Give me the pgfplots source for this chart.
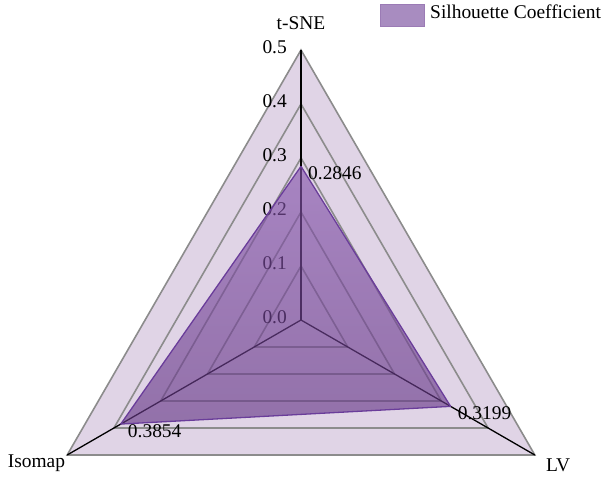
\documentclass[border=0pt]{standalone}
\usepackage{pgfplots}
\pgfplotsset{compat=1.18}
\usetikzlibrary{calc}
\usepackage{fontspec}
\setmainfont{Liberation Serif}
\definecolor{bgl}{HTML}{E0D4E6}
\definecolor{gridg}{HTML}{8C8C8C}
\definecolor{dataTop}{RGB}{136,88,174}
\definecolor{dataBot}{RGB}{104,58,136}
\definecolor{edgeC}{HTML}{6A3D9A}
\definecolor{legC}{HTML}{A88CC0}
\definecolor{legE}{HTML}{9B7BB5}
\begin{document}
\fontsize{19.5}{23}\selectfont
\begin{tikzpicture}
\begin{axis}[
  hide axis, x=540bp, y=540bp,
  xmin=-0.6, xmax=0.6, ymin=-0.35, ymax=0.6,
  clip=false,
]
\coordinate (c) at (axis cs:0,0);
% background
\addplot[data cs=polar, fill=bgl, draw=none] coordinates {(90,0.5) (210,0.5) (330,0.5) (90,0.5)};
% grid triangles
\addplot[data cs=polar, draw=gridg, line width=1.6bp, line join=miter] coordinates {(90,0.5) (210,0.5) (330,0.5) (90,0.5) (210,0.5)};
\addplot[data cs=polar, draw=gridg, line width=1.6bp] coordinates {(90,0.4) (210,0.4) (330,0.4) (90,0.4) (210,0.4)};
\addplot[data cs=polar, draw=gridg, line width=1.6bp] coordinates {(90,0.3) (210,0.3) (330,0.3) (90,0.3) (210,0.3)};
\addplot[data cs=polar, draw=gridg, line width=1.6bp] coordinates {(90,0.2) (210,0.2) (330,0.2) (90,0.2) (210,0.2)};
\addplot[data cs=polar, draw=gridg, line width=1.6bp] coordinates {(90,0.1) (210,0.1) (330,0.1) (90,0.1) (210,0.1)};
% spokes
\addplot[data cs=polar, draw=black, line width=1.3bp] coordinates {(90,0.5) (90,0)};
\addplot[data cs=polar, draw=black, line width=1.3bp] coordinates {(210,0.5) (210,0)};
\addplot[data cs=polar, draw=black, line width=1.3bp] coordinates {(330,0.5) (330,0)};
% tick labels
\node[anchor=east, inner sep=0pt, xshift=-14bp, yshift=3bp] at (axis cs:0,0.0) {0.0};
\node[anchor=east, inner sep=0pt, xshift=-14bp, yshift=3bp] at (axis cs:0,0.1) {0.1};
\node[anchor=east, inner sep=0pt, xshift=-14bp, yshift=3bp] at (axis cs:0,0.2) {0.2};
\node[anchor=east, inner sep=0pt, xshift=-14bp, yshift=3bp] at (axis cs:0,0.3) {0.3};
\node[anchor=east, inner sep=0pt, xshift=-14bp, yshift=3bp] at (axis cs:0,0.4) {0.4};
\node[anchor=east, inner sep=0pt, xshift=-14bp, yshift=3bp] at (axis cs:0,0.5) {0.5};
% data polygon
\addplot[data cs=polar, top color=dataTop, bottom color=dataBot, fill opacity=0.64, draw=edgeC, line width=1.3bp, line join=round]
  coordinates {(90,0.2846) (330,0.3199) (210,0.3854) (90,0.2846)};
% value labels
\addplot[data cs=polar, draw=none, mark=none, nodes near coords, point meta=explicit symbolic,
  every node near coord/.style={anchor=north west, inner sep=0pt, xshift=7bp, yshift=0bp, text=black}]
  coordinates {(90,0.2846)[0.2846] (330,0.3199)[0.3199] (210,0.3854)[0.3854]};
% category labels
\node[anchor=base, inner sep=0pt, yshift=20bp] at (axis cs:0,0.5) {t-SNE};
\node[anchor=base east, inner sep=0pt, xshift=-2bp, yshift=-13bp] at (axis cs:-0.4330,-0.25) {Isomap};
\node[anchor=base west, inner sep=0pt, xshift=11bp, yshift=-17bp] at (axis cs:0.4330,-0.25) {LV};
\end{axis}
% legend
\filldraw[fill=legC, draw=legE, line width=0.8bp] ($(c)+(79bp,294bp)$) rectangle ++(44bp,22bp);
\node[anchor=base west, inner sep=0pt] at ($(c)+(129bp,301bp)$) {Silhouette Coefficient};
\pgfresetboundingbox
\path ($(c)+(-301bp,-164bp)$) rectangle ++(606bp,484bp);
\end{tikzpicture}
\end{document}
